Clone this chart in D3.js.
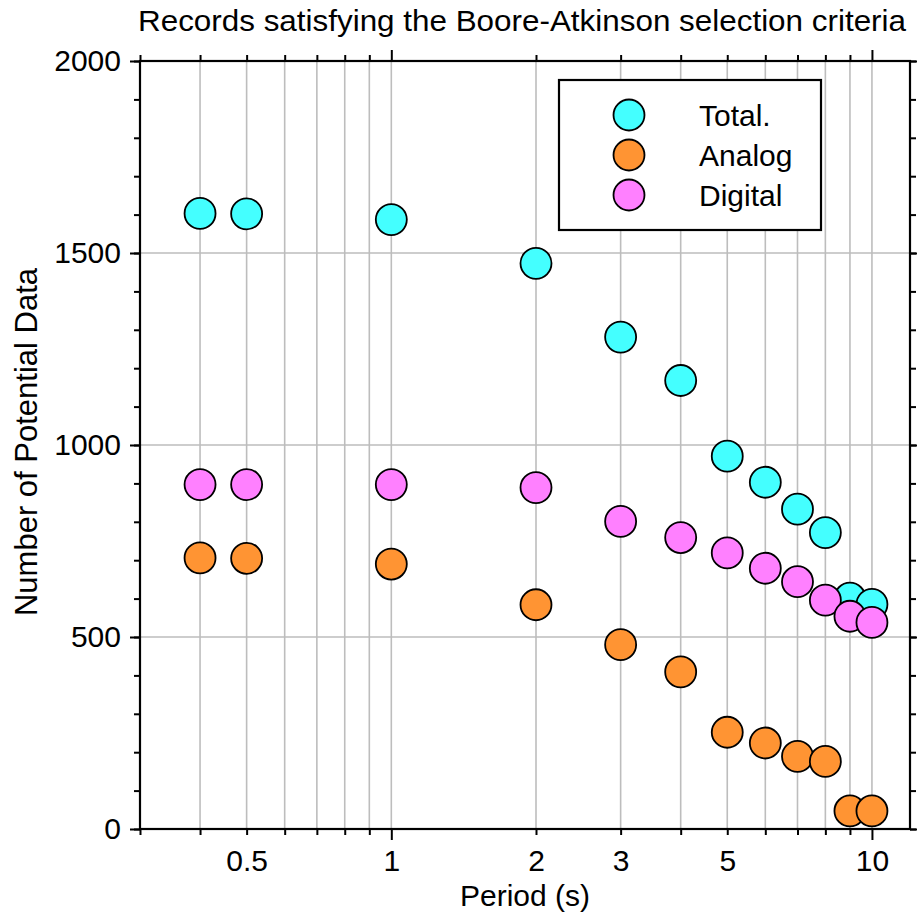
<!DOCTYPE html>
<html>
<head>
<meta charset="utf-8">
<script src="https://cdn.jsdelivr.net/npm/d3@7"></script>
<style>
  html, body { margin: 0; padding: 0; background: #fff; }
  svg { display: block; }
  text { font-family: "Liberation Sans", Arial, Helvetica, sans-serif; fill: #000; }
</style>
</head>
<body>
<svg id="chart" width="917" height="917"></svg>
<script>
// Periods (s) and record counts per selection group
const periods = [0.4, 0.5, 1, 2, 3, 4, 5, 6, 7, 8, 9, 10];
const total   = [1603, 1602, 1587, 1473, 1281, 1168, 971, 903, 833, 772, 601, 585];
const analog  = [706, 705, 690, 584, 480, 409, 252, 224, 189, 176, 47, 47];
const digital = [897, 897, 897, 889, 801, 759, 719, 679, 644, 596, 554, 538];

const xLabelTicks = [0.5, 1, 2, 3, 5, 10];
const xMinorTicks = [0.3, 0.4, 0.5, 0.6, 0.7, 0.8, 0.9, 2, 3, 4, 5, 6, 7, 8, 9];
const xMajorTicks = [1, 10];
const xGridValues = [0.4, 0.5, 0.6, 0.7, 0.8, 0.9, 1, 2, 3, 4, 5, 6, 7, 8, 9, 10];
const yMajorTicks = [0, 500, 1000, 1500, 2000];
const yMinorTicks = d3.range(0, 2001, 100);
const yGridValues = [500, 1000, 1500];

const seriesNames  = ["Total.", "Analog", "Digital"];
const seriesValues = [total, analog, digital];
const seriesColors = ["#44ffff", "#ff9433", "#ff80ff"];

const svg = d3.select("#chart");
const plotL = 140, plotR = 910, plotT = 61, plotB = 829;

const x = d3.scaleLog().domain([0.3, 12]).range([plotL, plotR]);
const y = d3.scaleLinear().domain([0, 2000]).range([plotB, plotT]);

// grid
const grid = svg.append("g").attr("stroke", "#bdbdbd").attr("stroke-width", 1.6);
grid.selectAll("line.vx").data(xGridValues).join("line")
  .attr("x1", d => x(d)).attr("x2", d => x(d))
  .attr("y1", plotT).attr("y2", plotB);
grid.selectAll("line.hy").data(yGridValues).join("line")
  .attr("x1", plotL).attr("x2", plotR)
  .attr("y1", d => y(d)).attr("y2", d => y(d));

// axes: ticks pointing outward on every side
function styleAxis(g) {
  g.select(".domain").remove();
  g.selectAll(".tick line").attr("stroke", "#000").attr("stroke-width", 2);
  g.selectAll("text").attr("font-size", 30);
}
const blank = () => "";

[[d3.axisBottom, plotB], [d3.axisTop, plotT]].forEach(([fn, pos]) => {
  svg.append("g").attr("transform", `translate(0,${pos})`)
    .call(fn(x).tickValues(xMinorTicks).tickSize(6).tickSizeOuter(0).tickFormat(blank)).call(styleAxis);
  svg.append("g").attr("transform", `translate(0,${pos})`)
    .call(fn(x).tickValues(xMajorTicks).tickSize(11).tickSizeOuter(0).tickFormat(blank)).call(styleAxis);
});
[[d3.axisLeft, plotL], [d3.axisRight, plotR]].forEach(([fn, pos]) => {
  svg.append("g").attr("transform", `translate(${pos},0)`)
    .call(fn(y).tickValues(yMinorTicks).tickSize(6).tickSizeOuter(0).tickFormat(blank)).call(styleAxis);
  svg.append("g").attr("transform", `translate(${pos},0)`)
    .call(fn(y).tickValues(yMajorTicks).tickSize(10).tickSizeOuter(0).tickFormat(blank)).call(styleAxis);
});

// tick labels
svg.append("g").attr("transform", `translate(0,${plotB})`)
  .call(d3.axisBottom(x).tickValues(xLabelTicks).tickSize(0).tickPadding(21)
    .tickFormat(d3.format("~g")))
  .call(styleAxis);
svg.append("g").attr("transform", `translate(${plotL},0)`)
  .call(d3.axisLeft(y).tickValues(yMajorTicks).tickSize(0).tickPadding(19)
    .tickFormat(d3.format("d")))
  .call(styleAxis);

// frame
svg.append("rect")
  .attr("x", plotL).attr("y", plotT)
  .attr("width", plotR - plotL).attr("height", plotB - plotT)
  .attr("fill", "none").attr("stroke", "#000").attr("stroke-width", 2.2);

// points
seriesValues.forEach((vals, i) => {
  svg.append("g").selectAll("circle").data(periods.map((p, j) => [p, vals[j]])).join("circle")
    .attr("cx", d => x(d[0])).attr("cy", d => y(d[1])).attr("r", 15.5)
    .attr("fill", seriesColors[i]).attr("stroke", "#000").attr("stroke-width", 1.8);
});

// legend
const legend = svg.append("g");
legend.append("rect").attr("x", 559).attr("y", 80).attr("width", 262).attr("height", 150)
  .attr("fill", "#fff").attr("stroke", "#000").attr("stroke-width", 2.2);
seriesNames.forEach((name, i) => {
  const cy = 115 + i * 40;
  legend.append("circle").attr("cx", 629).attr("cy", cy).attr("r", 15.5)
    .attr("fill", seriesColors[i]).attr("stroke", "#000").attr("stroke-width", 1.8);
  legend.append("text").attr("x", 699).attr("y", cy + 11).attr("font-size", 30).text(name);
});

// titles
svg.append("text").attr("x", 522).attr("y", 31).attr("text-anchor", "middle")
  .attr("font-size", 30).attr("textLength", 768).attr("lengthAdjust", "spacingAndGlyphs")
  .text("Records satisfying the Boore-Atkinson selection criteria");
svg.append("text").attr("x", 525).attr("y", 906).attr("text-anchor", "middle")
  .attr("font-size", 30).text("Period (s)");
svg.append("text").attr("transform", "translate(37,442) rotate(-90)").attr("text-anchor", "middle")
  .attr("font-size", 31).text("Number of Potential Data");
</script>
</body>
</html>
